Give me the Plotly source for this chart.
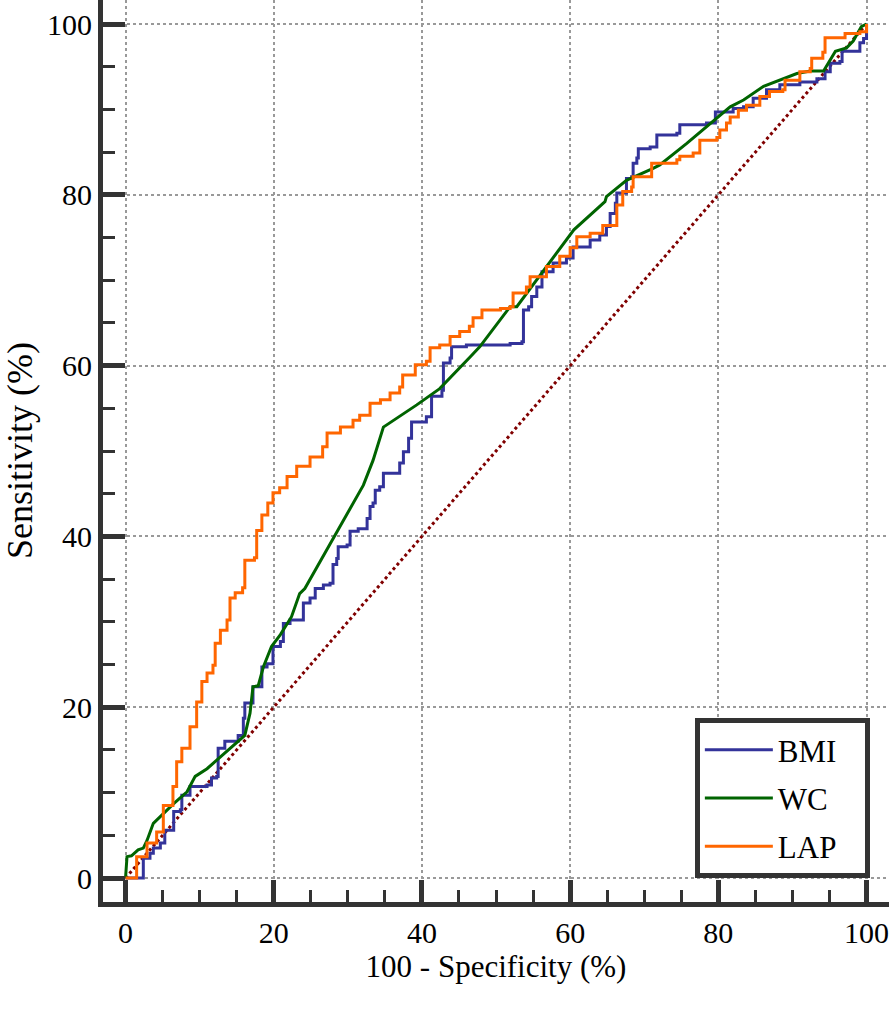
import plotly.graph_objects as go

# ---- data (100 - specificity %, sensitivity %) ----
bmi_x = [0, 2.4, 2.4, 3.3, 3.75, 4.7, 5.3, 6.5, 6.5, 7.4, 7.6, 8.7, 11.0, 11.6, 12.3, 12.5, 13.4, 15.2, 15.9, 16.1,
         16.8, 17.2, 18.2, 18.4, 19.1, 19.9, 20.9, 21.3, 22.2, 23.5, 24.0, 24.9, 25.6, 26.7, 27.6, 28.0, 28.5, 28.7,
         29.9, 30.3, 31.4, 32.6, 33.0, 33.4, 33.7, 34.3, 34.8, 37.0, 37.5, 38.2, 38.6, 40.6, 41.3, 42.7, 42.9, 43.8,
         44.0, 46.0, 51.9, 53.5, 53.7, 54.4, 54.8, 55.5, 56.2, 57.7, 59.5, 60.4, 61.8, 62.7, 64.0, 64.9, 65.4, 66.1,
         66.3, 67.6, 68.3, 68.5, 69.0, 69.2, 70.8, 71.7, 74.4, 74.8, 78.4, 79.6, 82.0, 83.4, 84.7, 86.5, 88.3, 91.0,
         93.3, 94.4, 95.1, 96.4, 96.7, 98.7, 99.1, 99.6, 100, 100]
bmi_y = [0, 0, 2.3, 2.9, 3.5, 4.1, 5.6, 6.6, 7.8, 8.0, 9.7, 10.7, 10.9, 11.7, 11.9, 15.2, 16.0, 16.7, 18.7, 20.5,
         20.5, 22.4, 22.4, 24.7, 25.1, 27.1, 27.7, 29.8, 30.2, 30.2, 32.2, 32.8, 33.9, 34.3, 34.5, 36.7, 37.4, 38.8,
         39.0, 40.6, 40.9, 42.1, 43.5, 43.9, 45.4, 45.8, 47.4, 48.6, 49.9, 51.5, 53.4, 54.0, 56.4, 57.1, 60.3, 60.9,
         62.2, 62.4, 62.6, 62.8, 66.5, 66.9, 68.1, 69.2, 71.0, 72.0, 72.6, 73.9, 73.9, 74.7, 75.3, 76.3, 77.8, 79.0,
         80.2, 81.9, 82.1, 83.7, 84.3, 85.4, 85.6, 87.0, 87.2, 88.2, 88.4, 89.7, 90.1, 90.3, 91.3, 92.3, 92.9, 93.2,
         93.6, 94.4, 95.4, 95.6, 96.8, 96.8, 97.8, 98.3, 99.7, 100]

wc_x = [0, 0.2, 0.8, 1.7, 2.4, 2.9, 3.75, 4.7, 6.5, 8.3, 9.4, 11.0, 12.8, 15.7, 16.1, 16.8, 17.2, 17.9, 18.6, 19.7,
        20.9, 22.4, 23.5, 24.2, 32.1, 33.4, 34.8, 39.3, 42.4, 46.5, 47.8, 51.9, 52.8, 60.5, 62.2, 64.7, 64.9, 67.6,
        71.2, 72.1, 75.7, 79.3, 81.6, 83.4, 86.1, 90.6, 92.4, 94.2, 95.8, 97.3, 98.2, 99.3, 100]
wc_y = [0, 2.5, 2.6, 3.3, 3.5, 4.4, 6.4, 7.2, 8.7, 10.1, 11.9, 12.8, 14.2, 16.4, 16.7, 19.3, 22.4, 22.5, 24.7, 27.1,
        28.5, 30.6, 33.3, 33.9, 46.0, 48.9, 52.8, 55.4, 57.3, 61.0, 62.2, 66.9, 66.9, 75.9, 77.2, 79.2, 79.8, 81.7,
        83.1, 83.5, 86.0, 88.6, 90.3, 91.1, 92.7, 94.2, 94.5, 94.5, 96.8, 97.2, 98.0, 99.7, 100]

lap_x = [0, 1.5, 2.9, 4.2, 5.1, 6.4, 6.9, 7.6, 8.7, 9.6, 10.3, 11.0, 11.8, 12.1, 12.8, 13.7, 14.1, 14.8, 15.8, 16.1,
         17.4, 17.7, 18.4, 19.2, 19.9, 20.8, 21.8, 23.1, 24.9, 26.6, 27.2, 29.0, 30.7, 31.6, 33.0, 34.4, 35.7, 37.0,
         37.4, 39.1, 40.6, 41.1, 42.4, 43.8, 45.1, 46.4, 46.9, 48.1, 50.6, 51.9, 52.3, 54.1, 54.6, 56.8, 58.6, 60.0,
         60.9, 62.7, 64.4, 66.3, 67.1, 68.3, 68.5, 70.8, 71.0, 74.4, 74.8, 76.6, 77.5, 79.8, 80.2, 81.1, 81.6, 82.7,
         83.8, 85.6, 86.9, 88.7, 89.0, 91.0, 92.4, 92.6, 94.1, 94.4, 97.1, 99.1, 100]
lap_y = [0, 2.5, 4.1, 5.4, 8.5, 10.7, 13.6, 15.2, 17.7, 20.6, 23.0, 24.0, 24.9, 27.5, 29.0, 30.2, 32.8, 33.4, 34.0,
         37.2, 37.5, 40.7, 42.5, 43.9, 45.1, 45.7, 47.0, 48.2, 49.3, 50.5, 52.1, 52.8, 53.6, 54.2, 55.6, 56.0, 56.8,
         57.5, 58.9, 60.1, 60.5, 62.1, 62.4, 63.4, 64.0, 64.6, 65.6, 66.5, 66.7, 66.9, 68.5, 69.2, 70.4, 71.6, 72.8,
         73.8, 75.1, 75.5, 76.4, 78.8, 80.4, 80.9, 82.1, 82.1, 83.7, 84.1, 84.5, 84.9, 86.4, 86.7, 87.6, 88.4, 89.1,
         89.9, 90.5, 91.5, 92.1, 92.3, 93.4, 94.4, 94.8, 96.0, 96.7, 98.4, 98.9, 99.1, 100]

ref_x = [0, 100]
ref_y = [0, 100]

tick_vals = [0, 20, 40, 60, 80, 100]
tick_text = ["0", "20", "40", "60", "80", "100"]

FONT = "Liberation Serif"
AX = "#333333"
NB = "\u00a0"

fig = go.Figure()
fig.add_trace(go.Scatter(x=ref_x, y=ref_y, mode="lines", showlegend=False,
                         line=dict(color="#800000", width=3, dash="dot")))
fig.add_trace(go.Scatter(x=bmi_x, y=bmi_y, mode="lines", name="BMI" + NB * 3, legendgroup="a",
                         line=dict(color="#33339a", width=3, shape="hv")))
fig.add_trace(go.Scatter(x=wc_x, y=wc_y, mode="lines", name="WC", legendgroup="b",
                         line=dict(color="#006400", width=3)))
fig.add_trace(go.Scatter(x=lap_x, y=lap_y, mode="lines", name="LAP", legendgroup="c",
                         line=dict(color="#ff6600", width=3, shape="hv")))

axis_common = dict(
    tickvals=tick_vals, ticktext=tick_text,
    showline=True, linecolor=AX, linewidth=5,
    ticks="inside", ticklen=22, tickwidth=5, tickcolor=AX,
    showgrid=True, gridcolor="#999999", gridwidth=2, griddash="dot",
    zeroline=False, automargin=False,
    ticklabeloverflow="allow",
    tickfont=dict(family=FONT, size=30, color="black"),
    minor=dict(ticks="inside", ticklen=12, tickwidth=3, tickcolor=AX, dtick=5, tick0=0, showgrid=False),
)

fig.update_layout(
    width=889, height=1012,
    font=dict(family=FONT, color="black"),
    margin=dict(l=103, r=0, t=0, b=110),
    paper_bgcolor="white", plot_bgcolor="white",
    xaxis=dict(range=[-3.04, 103.03],
               title=dict(text="100 - Specificity (%)", font=dict(family=FONT, size=31, color="black"), standoff=8),
               **axis_common),
    yaxis=dict(range=[-2.81, 102.81], **axis_common),
    legend=dict(x=0.753, y=0.204, xanchor="left", yanchor="top",
                bgcolor="white", bordercolor=AX, borderwidth=5,
                font=dict(family=FONT, size=31, color="black"),
                itemwidth=68, tracegroupgap=5),
    annotations=[dict(text="Sensitivity (%)", xref="paper", yref="paper", x=0, y=0.5,
                      xanchor="center", yanchor="middle", xshift=-83, textangle=-90, showarrow=False,
                      font=dict(family=FONT, size=36, color="black"))],
)

fig.write_html("out.html", config={"displayModeBar": False},
               post_script="document.body.style.margin='0px';document.body.style.overflow='hidden';")
